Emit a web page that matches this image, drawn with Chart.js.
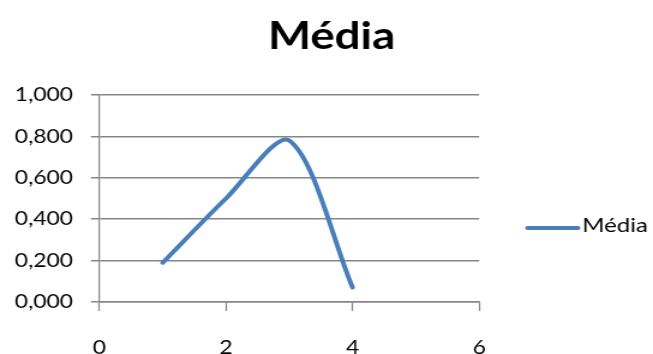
<!DOCTYPE html>
<html>
<head>
<meta charset="utf-8">
<script src="https://cdn.jsdelivr.net/npm/chart.js@4/dist/chart.umd.min.js"></script>
<style>
  html, body { margin: 0; padding: 0; background: #fff; overflow: hidden; }
  #wrap { width: 653px; height: 354px; overflow: hidden; }
  /* the chart is laid out on a narrower canvas and widened to the page width */
  #c { transform: scaleX(1.2004); transform-origin: 0 0; display: block; }
</style>
</head>
<body>
<div id="wrap"><canvas id="c" width="544" height="354"></canvas></div>
<script>
// Média por posição
const seriesName = 'Média';
const xValues = [1, 2, 3, 4];
const yValues = [0.19, 0.50, 0.78, 0.07];
const xTicks = [0, 2, 4, 6];
const yTicks = [0, 0.2, 0.4, 0.6, 0.8, 1.0];

const lineColor = '#4A7EBB';
const gridColor = '#868686';
const fontFamily = 'Lato, "Open Sans", sans-serif';

const points = xValues.map((x, i) => ({ x: x, y: yValues[i] }));

const fmt = v => v.toFixed(3).replace('.', ',');

// legend drawn to the right of the plot: a line sample followed by the label
const sideLegend = {
  id: 'sideLegend',
  afterDraw(chart) {
    const { ctx, chartArea } = chart;
    const ds = chart.data.datasets[0];
    const y = 228;
    const x0 = chartArea.right + 40.3;
    ctx.save();
    ctx.strokeStyle = ds.borderColor;
    ctx.lineWidth = 4;
    ctx.lineCap = 'round';
    ctx.beginPath();
    ctx.moveTo(x0, y);
    ctx.lineTo(x0 + 42, y);
    ctx.stroke();
    ctx.fillStyle = '#000';
    ctx.font = '20px ' + fontFamily;
    ctx.textBaseline = 'middle';
    ctx.textAlign = 'left';
    ctx.fillText(ds.label, x0 + 45.5, y - 2.5);
    ctx.restore();
  }
};

// centre the title over the full width rather than the space left of the legend
const titleSpan = {
  id: 'titleSpan',
  afterLayout(chart) {
    const t = chart.titleBlock;
    if (t) {
      t.left = 8.5;
      t.right = chart.width;
      t.width = t.right - t.left;
    }
  }
};

new Chart(document.getElementById('c'), {
  type: 'scatter',
  data: {
    datasets: [{
      label: seriesName,
      data: points,
      showLine: true,
      borderColor: lineColor,
      backgroundColor: lineColor,
      borderWidth: 4,
      borderCapStyle: 'round',
      pointRadius: 0,
      tension: 0.3
    }]
  },
  options: {
    responsive: false,
    animation: false,
    devicePixelRatio: 1,
    layout: { padding: { left: 0, right: 144.8, top: 0, bottom: 0 } },
    plugins: {
      legend: { display: false },
      tooltip: { enabled: false },
      title: {
        display: true,
        text: seriesName,
        color: '#000',
        font: { family: fontFamily, size: 38, weight: 'bold' },
        padding: { top: 14, bottom: 35.4 }
      }
    },
    scales: {
      x: {
        type: 'linear',
        min: xTicks[0],
        max: xTicks[xTicks.length - 1],
        afterBuildTicks: s => { s.ticks = xTicks.map(v => ({ value: v })); },
        grid: { display: true, drawOnChartArea: false, tickLength: 9, tickColor: gridColor, tickWidth: 1.25 },
        border: { color: gridColor, width: 1.5 },
        ticks: {
          color: '#000',
          font: { family: fontFamily, size: 19 },
          padding: 25,
          maxRotation: 0
        },
        afterFit: s => { s.height = 52; }
      },
      y: {
        min: yTicks[0],
        max: yTicks[yTicks.length - 1],
        afterBuildTicks: s => { s.ticks = yTicks.map(v => ({ value: v })); },
        grid: { color: gridColor, lineWidth: 1.5, tickLength: 7, tickColor: gridColor },
        border: { color: gridColor, width: 1.25 },
        ticks: {
          color: '#000',
          font: { family: fontFamily, size: 19 },
          padding: 15,
          callback: v => fmt(v)
        },
        afterFit: s => { s.width = 82.75; }
      }
    }
  },
  plugins: [titleSpan, sideLegend]
});
</script>
</body>
</html>
